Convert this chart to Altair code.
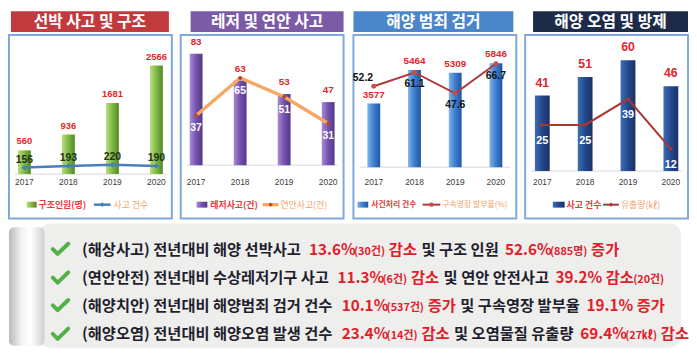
import altair as alt
import pandas as pd

# ---------------- data ----------------
years = ["2017", "2018", "2019", "2020"]
rescued_people = [560, 936, 1681, 2566]
ship_accidents = [156, 193, 220, 190]
leisure_accidents = [83, 63, 53, 47]
coastal_accidents = [37, 65, 51, 31]
crime_cases = [3577, 5464, 5309, 5846]
warrant_rate = [52.2, 61.1, 47.6, 66.7]
pollution_cases = [41, 51, 60, 46]
spill_volume = [25, 25, 39, 12]

panel_titles = ["선박 사고 및 구조", "레저 및 연안 사고", "해양 범죄 검거", "해양 오염 및 방제"]
bar_legends = ["구조인원(명)", "레저사고(건)", "사건처리 건수", "사고 건수"]
line_legends = ["사고 건수", "연안사고(건)", "구속영장 발부율(%)", "유출량(㎘)"]

# k = dark text, r = red text, s = small red text
summary_1 = [("(해상사고) 전년대비 해양 선박사고 ", "k"), ("13.6%", "r"), ("(30건)", "s"), (" 감소", "r"),
             (" 및 구조 인원 ", "k"), ("52.6%", "r"), ("(885명)", "s"), (" 증가", "r")]
summary_2 = [("(연안안전) 전년대비 수상레저기구 사고 ", "k"), ("11.3%", "r"), ("(6건)", "s"), (" 감소", "r"),
             (" 및 연안 안전사고 ", "k"), ("39.2% 감소", "r"), ("(20건)", "s")]
summary_3 = [("(해양치안) 전년대비 해양범죄 검거 건수 ", "k"), ("10.1%", "r"), ("(537건)", "s"), (" 증가", "r"),
             (" 및 구속영장 발부율 ", "k"), ("19.1% 증가", "r")]
summary_4 = [("(해양오염) 전년대비 해양오염 발생 건수 ", "k"), ("23.4%", "r"), ("(14건)", "s"), (" 감소", "r"),
             (" 및 오염물질 유출량 ", "k"), ("69.4%", "r"), ("(27㎘)", "s"), (" 감소", "r")]
summary_lines = [summary_1, summary_2, summary_3, summary_4]

# ---------------- style ----------------
W, H = 165, 186
KR = "Noto Sans CJK KR"
NUM = "Liberation Sans Narrow, Liberation Sans, Arial"
RED = "#e3262c"
LEG_RED = "#e53a3a"
LEG_ORANGE = "#f2a36c"


def grad(c0, c1, c2):
    return alt.Gradient(gradient="linear", x1=0, x2=1, y1=0, y2=0,
                        stops=[alt.GradientStop(color=c0, offset=0),
                               alt.GradientStop(color=c1, offset=0.5),
                               alt.GradientStop(color=c2, offset=1)])


def dom(baseline, ppu):
    return [-(H - baseline) / ppu, baseline / ppu]


one = pd.DataFrame({"a": [0]})


def build_panel(i, cfg):
    df = pd.DataFrame({"year": years, "bar": cfg["bars"], "line": cfg["line"]})
    x = alt.X("year:N", sort=years,
              scale=alt.Scale(paddingOuter=cfg["po"], paddingInner=0.3),
              axis=alt.Axis(title=None, orient="bottom", offset=-41, domain=False, ticks=False,
                            tickSize=0, labelAngle=0, labelFontSize=8.5, labelColor="#404040",
                            labelFont=NUM, labelPadding=0, grid=False))
    yb = alt.Y("bar:Q", scale=alt.Scale(domain=cfg["bdom"], nice=False), axis=None)
    yl = alt.Y("line:Q", scale=alt.Scale(domain=cfg["ldom"], nice=False), axis=None)
    base = alt.Chart(df)

    bx0, bx1 = cfg["banner_x"]
    banner = alt.Chart(one).mark_rect(color=cfg["banner"]).encode(
        x=alt.value(bx0), x2=alt.value(bx1), y=alt.value(-24), y2=alt.value(-3))
    banner_txt = alt.Chart(pd.DataFrame({"t": [panel_titles[i]]})).mark_text(
        color="white", font=KR, fontWeight="bold", fontSize=16, baseline="middle").encode(
        x=alt.value((bx0 + bx1) / 2), y=alt.value(-13.5), text="t:N")

    baseline_rule = alt.Chart(one).mark_rule(color="#d8d8d8", strokeWidth=1).encode(
        x=alt.value(6), x2=alt.value(W - 6),
        y=alt.Y(datum=0, scale=alt.Scale(domain=cfg["bdom"], nice=False), axis=None))

    bars = base.mark_bar(size=cfg["bsize"], color=cfg["grad"]).encode(x=x, y=yb)
    line = base.mark_line(color=cfg["lcolor"], strokeWidth=cfg["lw"]).encode(x=x, y=yl)
    pts = base.mark_point(shape=cfg["mshape"], filled=True, color=cfg["mcolor"],
                          size=cfg["msize"], opacity=1).encode(x=x, y=yl)

    bl = cfg["blabel"]
    bar_lab = base.mark_text(color=RED, font=bl["font"], fontWeight="bold", fontSize=bl["fs"],
                             dy=bl["dy"], baseline="middle").encode(
        x=x, y=yb, text=alt.Text("bar:Q", format=cfg["bfmt"]))

    layers = [banner, banner_txt, baseline_rule, bars, line, pts, bar_lab]
    ll = cfg["llabel"]
    if "first" in ll:
        f = ll["first"]
        layers.append(base.transform_filter(alt.datum.year == years[0]).mark_text(
            color=ll["color"], font=NUM, fontWeight="bold", fontSize=ll["fs"], dx=f[0], dy=f[1],
            baseline="middle").encode(x=x, y=yl, text=alt.Text("line:Q", format=cfg["lfmt"])))
        layers.append(base.transform_filter(alt.datum.year != years[0]).mark_text(
            color=ll["color"], font=NUM, fontWeight="bold", fontSize=ll["fs"], dy=ll["dy"],
            baseline="middle").encode(x=x, y=yl, text=alt.Text("line:Q", format=cfg["lfmt"])))
    else:
        layers.append(base.mark_text(
            color=ll["color"], font=NUM, fontWeight="bold", fontSize=ll["fs"], dy=ll["dy"],
            baseline="middle").encode(x=x, y=yl, text=alt.Text("line:Q", format=cfg["lfmt"])))

    # legend (drawn inside the box)
    lg = cfg["legend"]
    ly = 172
    lfs = lg["fs"]
    layers.append(alt.Chart(one).mark_rect(color=cfg["grad"]).encode(
        x=alt.value(lg["sq"][0]), x2=alt.value(lg["sq"][1]), y=alt.value(ly - 3), y2=alt.value(ly + 3)))
    layers.append(alt.Chart(pd.DataFrame({"t": [bar_legends[i]]})).mark_text(
        color=LEG_RED, font=KR, fontSize=lfs, fontWeight="bold", align="left", baseline="middle").encode(
        x=alt.value(lg["t1"]), y=alt.value(ly), text="t:N"))
    layers.append(alt.Chart(one).mark_rule(color=cfg["lcolor"], strokeWidth=cfg["lw"]).encode(
        x=alt.value(lg["ln"][0]), x2=alt.value(lg["ln"][1]), y=alt.value(ly)))
    layers.append(alt.Chart(one).mark_point(shape=cfg["mshape"], filled=True, color=cfg["mcolor"],
                                            size=cfg["msize"] * 0.8, opacity=1).encode(
        x=alt.value((lg["ln"][0] + lg["ln"][1]) / 2), y=alt.value(ly)))
    layers.append(alt.Chart(pd.DataFrame({"t": [line_legends[i]]})).mark_text(
        color=LEG_ORANGE, font=KR, fontSize=lfs, align="left", baseline="middle").encode(
        x=alt.value(lg["t2"]), y=alt.value(ly), text="t:N"))

    ch = alt.layer(*layers).properties(
        width=W, height=H, view=alt.ViewBackground(stroke="#7ea9dc", strokeWidth=2))
    if cfg.get("indep"):
        ch = ch.resolve_scale(y="independent")
    return ch


cfgs = [
    dict(bars=rescued_people, line=ship_accidents, banner="#c13a3e", banner_x=(2, W - 3), po=0.0,
         grad=grad("#b6e07c", "#80b845", "#4f8a22"), bsize=13,
         bdom=dom(141, 0.04287), ldom=dom(141, 0.04287),
         lcolor="#4a7ebb", lw=2.5, mshape="diamond", mcolor="#4a7ebb", msize=30,
         bfmt="d", lfmt="d",
         blabel=dict(font=NUM, fs=9.5, dy=-9),
         llabel=dict(color="#1e3214", fs=10.5, dy=-8),
         legend=dict(sq=(18, 28), t1=30, ln=(86, 103), t2=106, fs=9)),
    dict(bars=leisure_accidents, line=coastal_accidents, banner="#7b5aa6", banner_x=(10, W), po=0.0,
         grad=grad("#a88bd8", "#7452ae", "#523886"), bsize=13,
         bdom=dom(132, 1.36), ldom=dom(132, 1.36),
         lcolor="#f5a862", lw=3.5, mshape="diamond", mcolor="#b5462f", msize=25,
         bfmt="d", lfmt="d",
         blabel=dict(font=NUM, fs=10, dy=-12),
         llabel=dict(color="white", fs=10.5, dy=13),
         legend=dict(sq=(16, 27), t1=30, ln=(83, 99), t2=101, fs=9)),
    dict(bars=crime_cases, line=warrant_rate, banner="#4a86c9", banner_x=(0, W - 3), po=0.15,
         grad=grad("#80b3e9", "#3b7dd0", "#21579d"), bsize=13,
         bdom=dom(134, 0.018), ldom=dom(134, 1.57), indep=True,
         lcolor="#b03a3a", lw=2, mshape="circle", mcolor="#c0504d", msize=25,
         bfmt="d", lfmt=".1f",
         blabel=dict(font=NUM, fs=10, dy=-9),
         llabel=dict(color="#111111", fs=10.5, dy=12, first=(-11, -8)),
         legend=dict(sq=(4, 15), t1=18, ln=(70, 88), t2=90, fs=8)),
    dict(bars=pollution_cases, line=spill_volume, banner="#1d2b49", banner_x=(8, W), po=0.05,
         grad=grad("#3d6db6", "#24488c", "#193266"), bsize=15,
         bdom=dom(138, 1.87), ldom=dom(138, 1.87),
         lcolor="#a93535", lw=2, mshape="diamond", mcolor="#a93535", msize=22,
         bfmt="d", lfmt="d",
         blabel=dict(font="Liberation Sans, Arial", fs=12.5, dy=-13),
         llabel=dict(color="white", fs=11, dy=16),
         legend=dict(sq=(28, 40), t1=42, ln=(79, 95), t2=97, fs=9)),
]

panels = [build_panel(i, c) for i, c in enumerate(cfgs)]
top = alt.hconcat(*panels, spacing=7).resolve_scale(x="independent", y="independent")

# ---------------- summary text panel ----------------
TW, TH = 681, 126
FS_MAIN, FS_SMALL = 15.5, 11
COLORS = {"k": "#1f1f2e", "r": "#e0202a", "s": "#e0202a"}


def char_w(c, fs):
    o = ord(c)
    if 0xAC00 <= o <= 0xD7A3:
        return fs * 0.93
    if c == "㎘":
        return fs * 1.0
    if c == " ":
        return fs * 0.27
    if c in "()":
        return fs * 0.37
    if c == ".":
        return fs * 0.3
    if c == "%":
        return fs * 0.9
    if c.isdigit():
        return fs * 0.58
    return fs * 0.6


def text_w(s, fs):
    return sum(char_w(c, fs) for c in s)


line_centers = [26, 55, 83, 112]
rows = []
for li, segs in enumerate(summary_lines):
    xpos = 74.0
    for seg, kind in segs:
        fs = FS_SMALL if kind == "s" else FS_MAIN
        lead = len(seg) - len(seg.lstrip(" "))
        rows.append(dict(text=seg.strip(" "), x=xpos + text_w(seg[:lead], fs),
                         y=line_centers[li] + 5.5, color=COLORS[kind], fs=fs))
        xpos += text_w(seg, fs)
txt_df = pd.DataFrame(rows)
chk_df = pd.DataFrame({"y": line_centers, "x": [52] * 4})

bg = alt.Chart(one).mark_rect(color="#eeeeec", cornerRadius=12).encode(
    x=alt.value(30), x2=alt.value(TW), y=alt.value(0), y2=alt.value(TH))
curl = alt.Chart(one).mark_rect(
    cornerRadius=5,
    color=alt.Gradient(gradient="linear", x1=0, x2=1, y1=0, y2=0,
                       stops=[alt.GradientStop(color="#b9b9b9", offset=0),
                              alt.GradientStop(color="#f2f2f2", offset=0.35),
                              alt.GradientStop(color="#ffffff", offset=0.6),
                              alt.GradientStop(color="#d0d0d0", offset=1)])).encode(
    x=alt.value(0), x2=alt.value(36), y=alt.value(4), y2=alt.value(TH - 2))
checks = alt.Chart(chk_df).mark_point(
    shape="M-0.85,0.0 L-0.3,0.55 L0.9,-0.6", filled=False, color="#52b04a",
    strokeWidth=4, strokeCap="round", strokeJoin="round", size=320, opacity=1).encode(
    x=alt.X("x:Q", scale=None), y=alt.Y("y:Q", scale=None))
texts = alt.Chart(txt_df).mark_text(align="left", baseline="alphabetic", font=KR,
                                    fontWeight="bold").encode(
    x=alt.X("x:Q", scale=None), y=alt.Y("y:Q", scale=None), text="text:N",
    color=alt.Color("color:N", scale=None), size=alt.Size("fs:Q", scale=None))

bottom = alt.layer(bg, curl, checks, texts).properties(
    width=TW, height=TH, view=alt.ViewBackground(strokeWidth=0))

chart = alt.vconcat(top, bottom, spacing=4).resolve_scale(
    x="independent", y="independent").properties(padding=0).configure_view(strokeWidth=0)

chart.save("out.html", embed_options={"renderer": "svg", "actions": False})
